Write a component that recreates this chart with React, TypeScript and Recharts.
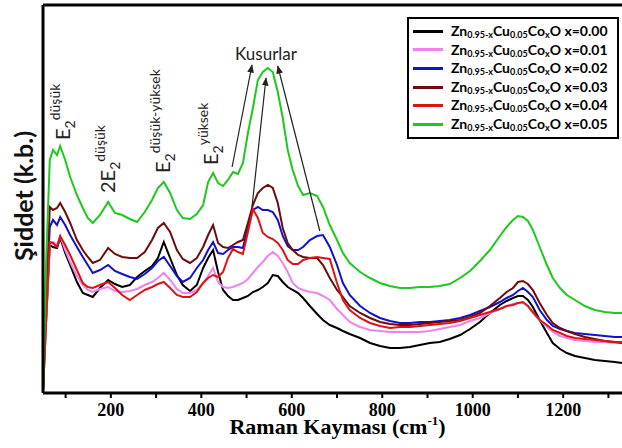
import React from "react";
import {
  LineChart,
  Line,
  XAxis,
  YAxis,
  Legend,
  ReferenceLine,
  ReferenceDot,
} from "recharts";

// Raman shift grid (cm-1)
const ramanShift = [
  50, 57, 65, 72, 81, 88, 99, 110, 125, 138, 149, 160, 176, 194, 209, 225, 242, 258, 275, 291,
  304, 317, 331, 346, 359, 375, 390, 404, 415, 426, 437, 448, 459, 470, 481, 492, 503, 514, 525, 536,
  547, 558, 569, 580, 591, 602, 614, 625, 640, 656, 669, 684, 700, 713, 728, 751, 773, 795, 817, 839,
  861, 883, 905, 927, 949, 972, 994, 1016, 1038, 1060, 1075, 1089, 1100, 1111, 1122, 1133, 1148, 1164, 1177, 1193,
  1208, 1226, 1248, 1270, 1292, 1314, 1330,
];

// intensities (a.u.), one array per Co content
const intensityX000 = [
  1, 73, 148, 146, 145, 155, 140, 128, 111, 100, 98, 96, 105, 113, 109, 106, 108, 116, 122, 127,
  135, 151, 135, 118, 108, 102, 108, 125, 135, 143, 121, 103, 97, 93, 93, 95, 97, 101, 103, 106,
  110, 118, 117, 111, 106, 103, 100, 95, 87, 79, 73, 68, 65, 62, 59, 55, 50, 47, 45, 45,
  46, 48, 50, 51, 54, 58, 64, 71, 80, 88, 92, 95, 97, 97, 93, 86, 73, 60, 50, 44,
  40, 37, 35, 33, 32, 31, 30,
];
const intensityX001 = [
  1, 73, 150, 151, 148, 157, 143, 131, 117, 108, 103, 101, 104, 106, 102, 101, 102, 104, 108, 111,
  115, 120, 113, 104, 100, 100, 103, 110, 117, 125, 111, 106, 105, 106, 108, 110, 114, 120, 126, 131,
  137, 141, 137, 130, 121, 110, 105, 103, 101, 100, 97, 93, 84, 78, 71, 66, 63, 62, 61, 61,
  61, 61, 62, 64, 66, 68, 72, 75, 80, 84, 87, 89, 90, 90, 87, 80, 73, 66, 61, 57,
  55, 53, 52, 51, 51, 50, 50,
];
const intensityX002 = [
  3, 93, 166, 173, 168, 176, 168, 158, 146, 136, 128, 120, 123, 128, 122, 119, 116, 114, 119, 125,
  132, 136, 127, 117, 111, 115, 125, 133, 143, 151, 140, 139, 143, 146, 146, 145, 166, 183, 186, 183,
  183, 181, 173, 157, 147, 143, 143, 146, 153, 157, 158, 146, 128, 110, 98, 87, 80, 75, 72, 70,
  70, 71, 71, 72, 73, 75, 78, 82, 86, 91, 95, 98, 102, 105, 101, 96, 83, 73, 67, 64,
  62, 60, 59, 58, 57, 56, 56,
];
const intensityX003 = [
  3, 93, 186, 183, 185, 190, 181, 170, 153, 143, 136, 130, 133, 145, 139, 136, 135, 135, 141, 153,
  165, 170, 161, 143, 134, 130, 135, 146, 158, 168, 150, 146, 145, 148, 151, 153, 170, 188, 200, 205,
  208, 205, 190, 165, 150, 143, 138, 136, 135, 135, 128, 115, 103, 96, 87, 80, 75, 71, 69, 68,
  68, 69, 70, 71, 72, 73, 76, 80, 87, 95, 101, 105, 111, 112, 109, 103, 90, 78, 70, 65,
  62, 59, 56, 54, 52, 51, 50,
];
const intensityX004 = [
  1, 73, 151, 150, 146, 157, 148, 138, 123, 110, 106, 105, 108, 111, 105, 98, 93, 98, 103, 106,
  109, 111, 105, 98, 96, 96, 101, 110, 115, 118, 116, 121, 135, 144, 141, 139, 161, 184, 175, 160,
  156, 154, 150, 143, 133, 129, 129, 133, 135, 136, 135, 134, 110, 93, 83, 75, 70, 67, 65, 66,
  66, 67, 68, 69, 70, 72, 75, 78, 81, 84, 87, 88, 90, 91, 87, 81, 73, 68, 63, 60,
  57, 55, 54, 53, 52, 51, 51,
];
const intensityX005 = [
  3, 133, 233, 243, 238, 247, 233, 216, 198, 185, 175, 170, 178, 191, 180, 178, 174, 171, 181, 193,
  205, 211, 200, 183, 175, 174, 179, 188, 211, 220, 210, 207, 213, 221, 219, 230, 260, 285, 313, 321,
  325, 321, 301, 275, 243, 223, 207, 198, 200, 197, 186, 168, 153, 140, 130, 121, 115, 110, 107, 105,
  105, 106, 106, 107, 109, 115, 122, 132, 143, 157, 166, 173, 177, 176, 172, 163, 146, 128, 115, 105,
  98, 93, 87, 83, 81, 80, 80,
];

const cobaltLevels = ["0.00", "0.01", "0.02", "0.03", "0.04", "0.05"];
const seriesColors = ["#000000", "#ee82ee", "#1212c8", "#6e0c0c", "#dc1414", "#1ec81e"];
const seriesValues = [intensityX000, intensityX001, intensityX002, intensityX003, intensityX004, intensityX005];

const xTicks = [100, 200, 300, 400, 500, 600, 700, 800, 900, 1000, 1100, 1200, 1300];

// phonon mode labels: [shift, intensity, main, subscript, superscript]
const modeLabels: [number, number, string, string, string][] = [
  [110, 253, "E", "2", "düşük"],
  [209, 200, "2E", "2", "düşük"],
  [331, 220, "E", "2", "düşük-yüksek"],
  [437, 228, "E", "2", "yüksek"],
];

// defect arrows: [fromShift, fromInt, toShift, toInt]
const defectArrows = [
  [468, 226, 512, 328],
  [512, 186, 543, 315],
  [662, 162, 569, 327],
];

const data = ramanShift.map((s, i) => {
  const row: any = { shift: s };
  cobaltLevels.forEach((c, k) => {
    row["x" + c] = seriesValues[k][i];
  });
  return row;
});

const annotFont = "Lato, 'Open Sans', sans-serif";

const ModeLabel = ({ cx, cy, main, sub, sup }: any) => (
  <text
    x={cx}
    y={cy}
    transform={`rotate(-90 ${cx} ${cy})`}
    fontFamily={annotFont}
    fontSize={20}
    fill="#222"
  >
    {main}
    <tspan fontSize={14} dy={5}>
      {sub}
    </tspan>
    <tspan fontSize={14} dy={-15}>
      {sup}
    </tspan>
  </text>
);

const XTick = ({ x, y, payload }: any) => {
  if (payload.value % 200 !== 0) return null;
  return (
    <text
      x={x}
      y={y}
      dy={16}
      textAnchor="middle"
      fontFamily="'Liberation Serif', serif"
      fontWeight="bold"
      fontSize={18}
      fill="#000"
    >
      {payload.value}
    </text>
  );
};

const LegendBox = ({ payload }: any) => (
  <div
    style={{
      border: "2px solid #000",
      background: "#fff",
      width: 212,
      boxSizing: "border-box",
      padding: "3px 4px 3px 4px",
      fontFamily: annotFont,
      fontWeight: 700,
      fontSize: 14,
      lineHeight: "18.6px",
      color: "#000",
    }}
  >
    {(payload || []).map((entry: any) => (
      <div key={entry.value} style={{ display: "flex", alignItems: "center", whiteSpace: "nowrap" }}>
        <span style={{ display: "inline-block", width: 30, height: 3, background: entry.color, marginRight: 8 }} />
        <span>
          Zn<sub style={{ fontSize: 9, verticalAlign: "-2px", lineHeight: 0 }}>0.95-x</sub>Cu
          <sub style={{ fontSize: 9, verticalAlign: "-2px", lineHeight: 0 }}>0.05</sub>Co
          <sub style={{ fontSize: 9, verticalAlign: "-2px", lineHeight: 0 }}>x</sub>O {entry.value}
        </span>
      </div>
    ))}
  </div>
);

export default function App() {
  return (
    <div>
      <style>{"body{margin:0}"}</style>
      <svg width={0} height={0} style={{ position: "absolute" }}>
        <defs>
          <marker id="arrowHead" viewBox="0 0 10 10" refX={9} refY={5} markerWidth={7} markerHeight={7} orient="auto">
            <path d="M0,1 L10,5 L0,9 z" fill="#222" />
          </marker>
        </defs>
      </svg>
      <LineChart width={622} height={448} data={data} margin={{ top: 5, right: 0, left: 0, bottom: 0 }}>
        <XAxis
          dataKey="shift"
          type="number"
          domain={[50, 1330]}
          allowDataOverflow
          ticks={xTicks}
          tick={<XTick />}
          tickSize={5}
          height={55}
          axisLine={{ stroke: "#000", strokeWidth: 3 }}
          tickLine={{ stroke: "#000", strokeWidth: 2 }}
          label={{
            content: ({ viewBox }: any) => (
              <text
                x={viewBox.x + viewBox.width / 2 + 5}
                y={viewBox.y + 41}
                textAnchor="middle"
                fontFamily="'Liberation Serif', serif"
                fontWeight="bold"
                fontSize={22}
                fill="#000"
              >
                Raman Kayması (cm
                <tspan fontSize={13} dy={-9}>
                  -1
                </tspan>
                <tspan dy={9}>)</tspan>
              </text>
            ),
          }}
        />
        <YAxis
          type="number"
          domain={[0, 388]}
          allowDataOverflow
          width={43}
          tick={false}
          tickLine={false}
          axisLine={{ stroke: "#000", strokeWidth: 3 }}
          label={{
            content: ({ viewBox }: any) => {
              const cx = viewBox.x + 33;
              const cy = 196;
              return (
                <text
                  x={cx}
                  y={cy}
                  transform={`rotate(-90 ${cx} ${cy})`}
                  textAnchor="middle"
                  fontFamily={annotFont}
                  fontWeight="bold"
                  fontSize={25}
                  fill="#111"
                >
                  Şiddet (k.b.)
                </text>
              );
            },
          }}
        />
        <ReferenceLine y={388} stroke="#000" strokeWidth={3} ifOverflow="visible" />
        {cobaltLevels.map((c, k) => (
          <Line
            key={c}
            dataKey={"x" + c}
            name={"x=" + c}
            type="linear"
            stroke={seriesColors[k]}
            strokeWidth={2}
            dot={false}
            isAnimationActive={false}
          />
        ))}
        {defectArrows.map((a, i) => (
          <ReferenceLine
            key={"arrow" + i}
            segment={[
              { x: a[0], y: a[1] },
              { x: a[2], y: a[3] },
            ]}
            ifOverflow="visible"
            shape={(p: any) => (
              <line x1={p.x1} y1={p.y1} x2={p.x2} y2={p.y2} stroke="#222" strokeWidth={1.2} markerEnd="url(#arrowHead)" />
            )}
          />
        ))}
        {modeLabels.map((m) => (
          <ReferenceDot
            key={m[0]}
            x={m[0]}
            y={m[1]}
            r={0}
            ifOverflow="visible"
            shape={(p: any) => <ModeLabel cx={p.cx} cy={p.cy} main={m[2]} sub={m[3]} sup={m[4]} />}
          />
        ))}
        <ReferenceDot
          x={543}
          y={333}
          r={0}
          ifOverflow="visible"
          shape={(p: any) => (
            <text x={p.cx} y={p.cy} textAnchor="middle" fontFamily={annotFont} fontSize={17} fill="#222">
              Kusurlar
            </text>
          )}
        />
        <Legend
          layout="vertical"
          verticalAlign="middle"
          align="center"
          content={<LegendBox />}
          wrapperStyle={{ top: 17, left: 407, width: 212, bottom: "auto", right: "auto" }}
        />
      </LineChart>
    </div>
  );
}
